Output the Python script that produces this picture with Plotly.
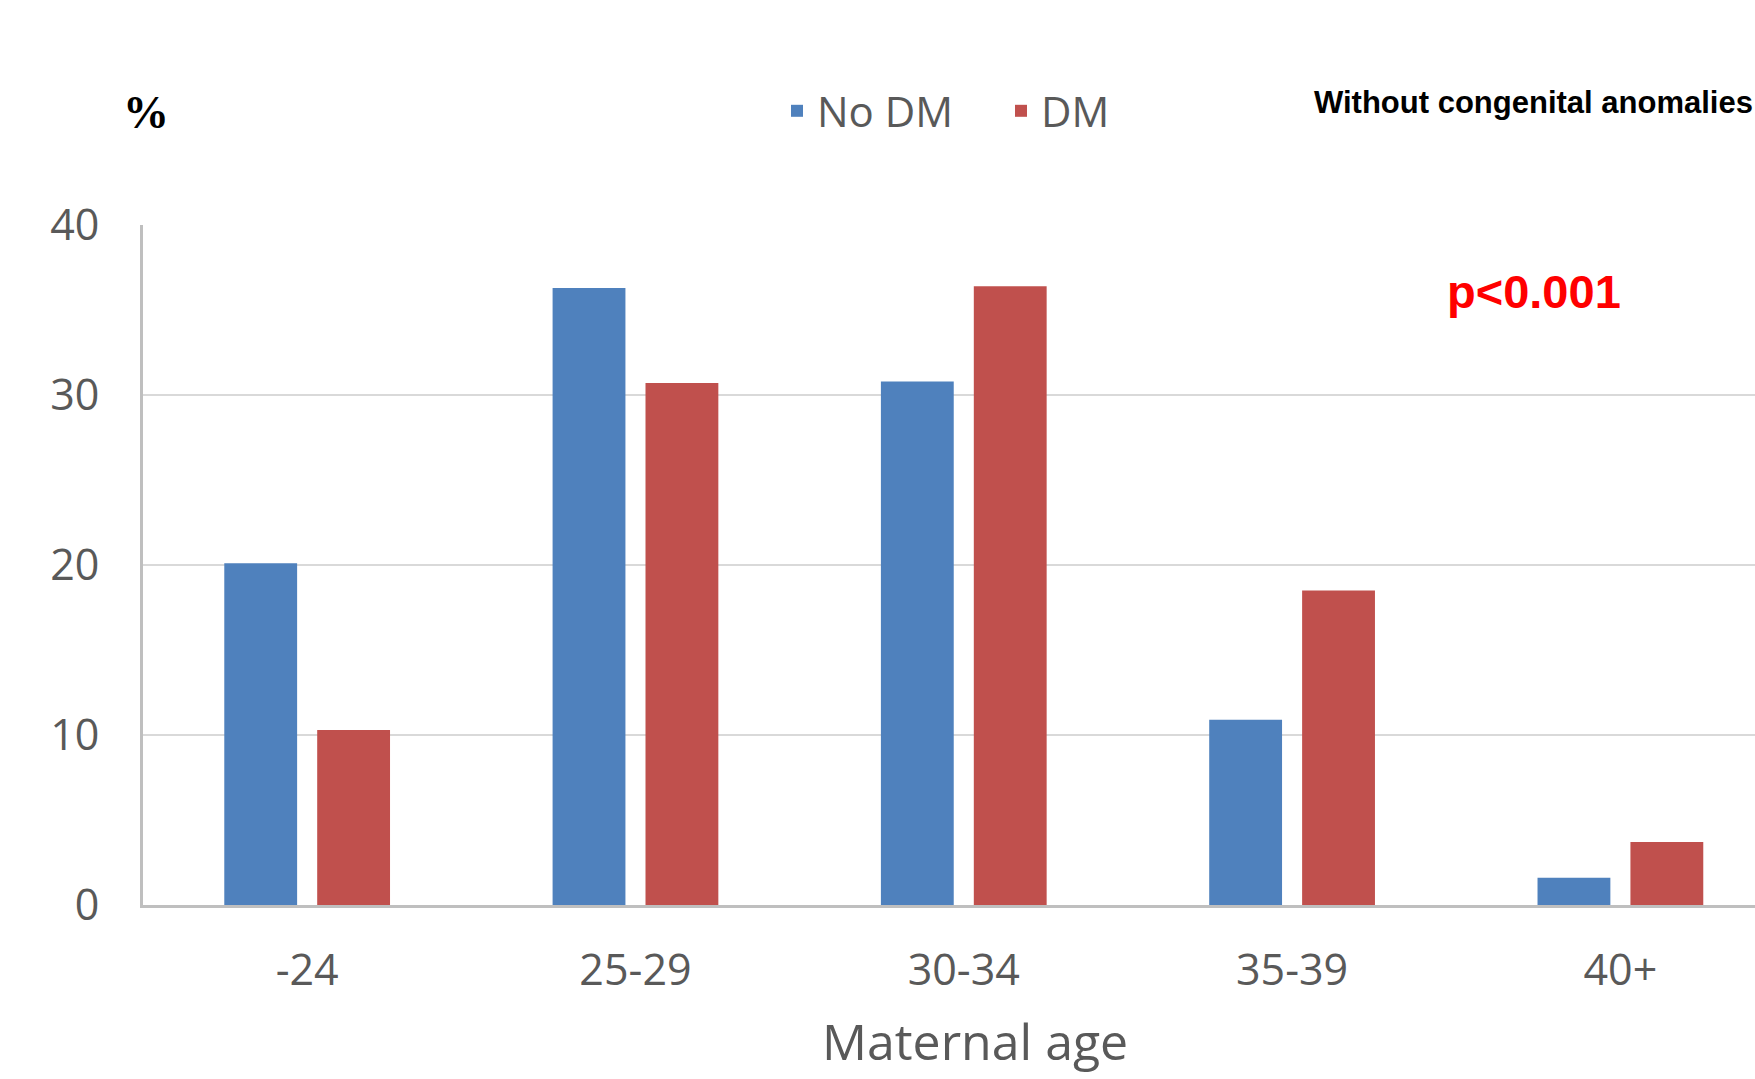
import plotly.graph_objects as go

categories = ["-24", "25-29", "30-34", "35-39", "40+"]
no_dm = [20.1, 36.3, 30.8, 10.9, 1.6]
dm = [10.3, 30.7, 36.4, 18.5, 3.7]
y_ticks = [0, 10, 20, 30, 40]

W, H = 1755, 1079
L, R, T, B = 143, 0, 225, 174
pw, ph = W - L - R, H - T - B

def px_x(x):
    return (x - L) / pw

def px_y(y):
    return (H - B - y) / ph

grey_txt = "#595959"
font_fam = "Open Sans, Liberation Sans, sans-serif"

fig = go.Figure()
fig.add_trace(go.Bar(x=categories, y=no_dm, name="No DM", marker=dict(color="#4F81BD", line=dict(width=0))))
fig.add_trace(go.Bar(x=categories, y=dm, name="DM", marker=dict(color="#C0504D", line=dict(width=0))))

fig.update_layout(
    width=W, height=H,
    margin=dict(l=L, r=R, t=T, b=B, pad=0),
    paper_bgcolor="white", plot_bgcolor="white",
    barmode="group", bargap=0.434, bargroupgap=0.216,
    font=dict(family=font_fam, color=grey_txt),
    legend=dict(
        orientation="h", x=px_x(777), y=px_y(111), xanchor="left", yanchor="middle",
        font=dict(size=42, color=grey_txt, family=font_fam),
        entrywidth=179, entrywidthmode="pixels", bgcolor="rgba(0,0,0,0)",
    ),
    xaxis=dict(
        type="category", range=[-0.5, 4.41], autorange=False,
        showline=True, linecolor="#bfbfbf", linewidth=3,
        showgrid=False, zeroline=False, ticks="",
        tickfont=dict(size=43, color=grey_txt, family=font_fam),
        ticklabelstandoff=25,
    ),
    yaxis=dict(
        range=[0, 40], autorange=False, tickvals=y_ticks,
        showline=True, linecolor="#bfbfbf", linewidth=3,
        showgrid=True, gridcolor="#d9d9d9", gridwidth=1.5, zeroline=False, ticks="",
        tickfont=dict(size=43, color=grey_txt, family=font_fam),
        ticklabelstandoff=32,
    ),
    annotations=[
        dict(text="Maternal age", x=px_x(975), y=px_y(1041), xref="paper", yref="paper",
             xanchor="center", yanchor="middle", showarrow=False,
             font=dict(size=50, color=grey_txt, family=font_fam)),
        dict(text="%", x=px_x(146), y=px_y(113), xref="paper", yref="paper",
             xanchor="center", yanchor="middle", showarrow=False,
             font=dict(size=46, color="black", family="Liberation Serif, serif", weight="bold")),
        dict(text="<b>Without congenital anomalies</b>", x=px_x(1312), y=px_y(103), xref="paper", yref="paper",
             xanchor="left", yanchor="middle", showarrow=False,
             font=dict(size=31, color="black", family="Liberation Sans, Arial, sans-serif")),
        dict(text="<b>p&lt;0.001</b>", x=px_x(1534), y=px_y(291), xref="paper", yref="paper",
             xanchor="center", yanchor="middle", showarrow=False,
             font=dict(size=47, color="#FF0000", family="Liberation Sans, Arial, sans-serif")),
    ],
)

fig.write_html(
    "out.html",
    config={"displayModeBar": False},
    post_script="document.body.style.margin='0';document.body.style.overflow='hidden';",
)
